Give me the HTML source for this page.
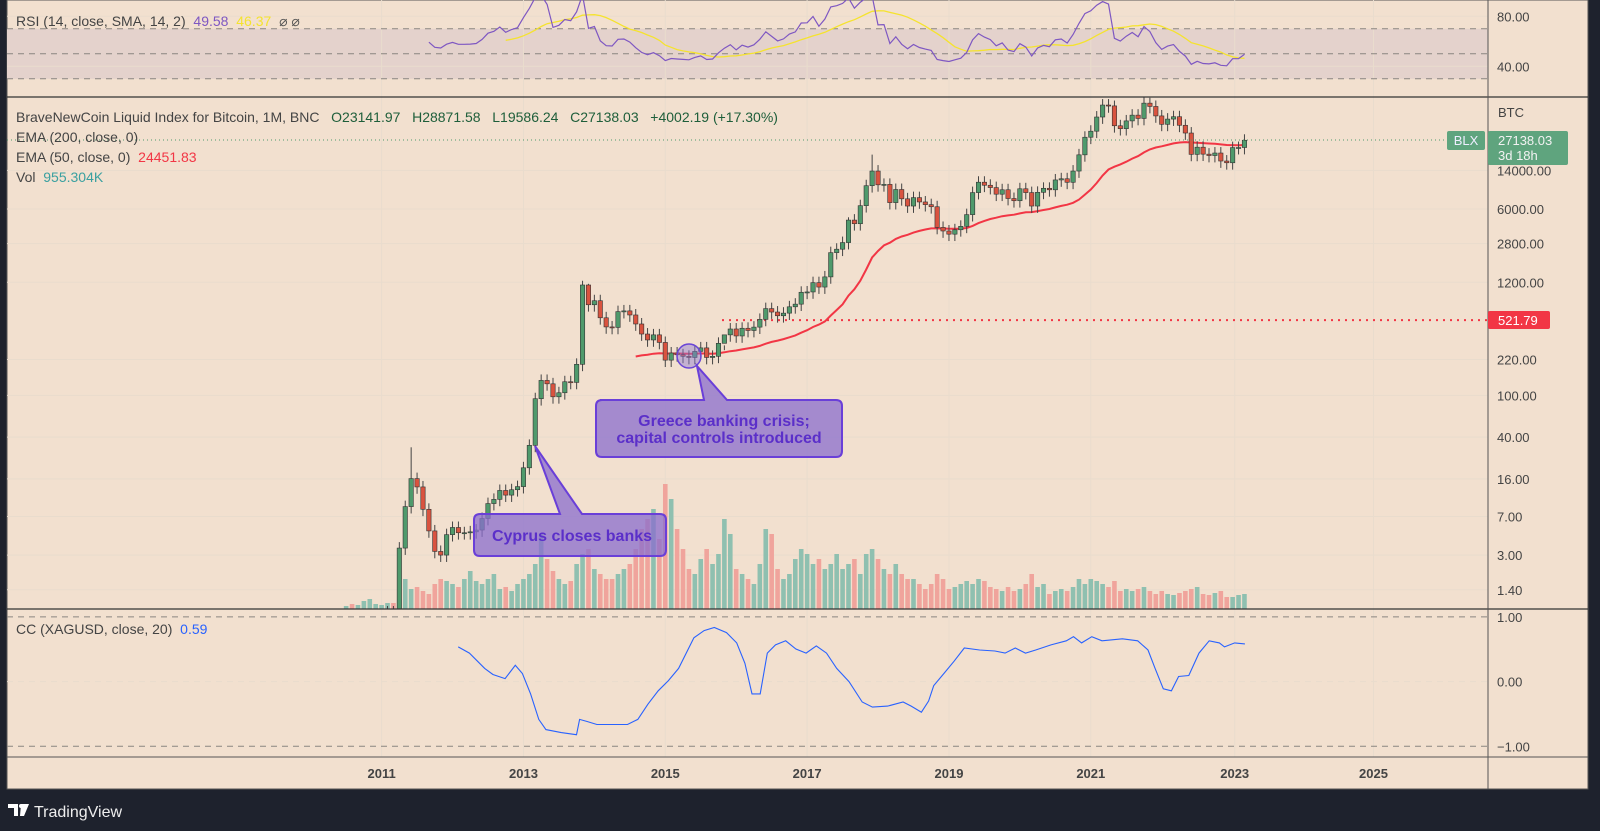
<!DOCTYPE html>
<html><head><meta charset="utf-8"><style>
html,body{margin:0;padding:0;background:#1e222d;width:1600px;height:831px;overflow:hidden}
svg{display:block}
text{font-family:"Liberation Sans",sans-serif;white-space:pre}
</style></head><body>
<svg id="s" width="1600" height="831" xmlns="http://www.w3.org/2000/svg"></svg>
<script>
const S=document.getElementById('s');let h='';
const BG='#f2e0cf',GR='#e9dccd';
h+=`<rect x="7" y="0" width="1581" height="789" fill="${BG}" stroke="#555" stroke-width="1"/>`;
const ry=r=>16.3+(80-r)*1.25;
h+=`<rect x="7" y="${ry(70)}" width="1481" height="${ry(30)-ry(70)}" fill="#e4d2cc"/>`;
const years=[[2011,381.6],[2013,523.5],[2015,665.3],[2017,807.1],[2019,949],[2021,1090.8],[2023,1234.7],[2025,1373.5]];
years.forEach(([y,x])=>{h+=`<line x1="${x}" y1="0" x2="${x}" y2="757" stroke="${GR}" stroke-width="1"/>`;
h+=`<text x="${x}" y="778" font-size="13" font-weight="bold" fill="#444" text-anchor="middle">${y}</text>`});
[[80,'80.00'],[40,'40.00']].forEach(([r,t])=>{h+=`<line x1="7" y1="${ry(r)}" x2="1488" y2="${ry(r)}" stroke="${GR}"/>`;h+=`<text x="1497" y="${ry(r)+5}" font-size="13" fill="#444">${t}</text>`});
[70,50,30].forEach(r=>h+=`<line x1="7" y1="${ry(r)}" x2="1488" y2="${ry(r)}" stroke="#8a8580" stroke-dasharray="6,5"/>`);
const py=p=>170.4+(4.146-Math.log10(p))*104.85;
[[14000,'14000.00'],[6000,'6000.00'],[2800,'2800.00'],[1200,'1200.00'],[220,'220.00'],[100,'100.00'],[40,'40.00'],[16,'16.00'],[7,'7.00'],[3,'3.00'],[1.4,'1.40']].forEach(([p,t])=>{
h+=`<line x1="7" y1="${py(p)}" x2="1488" y2="${py(p)}" stroke="${GR}"/>`;h+=`<text x="1497" y="${py(p)+5}" font-size="13" fill="#444">${t}</text>`});
h+=`<text x="1498" y="117" font-size="13" fill="#444">BTC</text>`;
const cy=v=>681.6-v*64.7;
[[1,'1.00'],[0,'0.00'],[-1,'\u22121.00']].forEach(([v,t])=>{h+=`<line x1="7" y1="${cy(v)}" x2="1488" y2="${cy(v)}" stroke="${v==0?GR:'#8a8580'}" stroke-dasharray="6,5"/>`;h+=`<text x="1497" y="${cy(v)+5}" font-size="13" fill="#444">${t}</text>`});
const C=[0.07,0.06,0.06,0.19,0.21,0.30,
0.5,0.86,0.78,3.5,8.7,16.1,13.4,8.2,5.1,3.25,3.0,4.7,
5.5,4.9,4.9,5.0,5.2,6.7,9.3,10.2,12.4,11.2,12.6,13.5,
20.4,33.4,93,139,129,97,106,135,133,198,1130,732,
800,550,450,445,630,640,585,480,385,338,378,320,
217,254,244,236,230,263,284,230,236,314,378,430,
369,437,416,448,531,673,624,575,609,700,742,963,
970,1190,1080,1350,2300,2480,2870,4700,4340,6450,10000,13800,
10200,10300,6900,9200,7500,6400,7700,7000,6600,6300,4000,3700,
3450,3800,4100,5300,8600,10800,10100,9600,8300,9150,7550,7190,
9350,8600,6400,8650,9450,9140,11350,11650,10780,13800,19700,29000,
33100,45200,58800,57700,37300,35000,41500,47100,43800,61300,57000,46300,
38500,43200,45500,37700,31800,19900,23300,20000,19400,20500,17200,16550,
23100,23140,27138];
const V=[3,5,4,8,10,5,4,6,6,10,30,20,22,18,15,25,30,28,25,22,30,38,28,25,30,35,20,22,18,25,30,35,45,75,50,38,30,25,28,45,55,60,40,35,30,30,35,40,45,60,80,90,100,70,125,110,80,60,40,35,50,60,45,55,90,75,40,35,30,25,45,80,75,40,30,35,50,60,55,45,50,40,45,55,40,45,50,35,55,60,50,40,35,45,35,30,30,25,20,25,35,30,20,22,25,28,25,30,28,22,20,18,22,18,20,25,35,22,25,15,18,20,18,22,30,25,30,28,25,22,28,18,20,18,20,22,18,15,18,15,14,16,18,20,22,15,14,16,18,12,12,14,15];
const X=m=>381.6+(m-6)*5.91;
const HI={11:32,40:1240,41:1160,89:19800,130:64900,136:69000,64:300,85:5000};
h+=`<defs><clipPath id="cm"><rect x="7" y="97" width="1481" height="512"/></clipPath><clipPath id="cr"><rect x="7" y="0" width="1481" height="97"/></clipPath></defs>`;
let g='<g clip-path="url(#cm)">';
C.forEach((c,m)=>{const o=m?C[m-1]:c*0.8;const up=c>=o;g+=`<rect x="${X(m)-2.3}" y="${609-V[m]}" width="4.6" height="${V[m]}" fill="${up?'#8fc0b0':'#f0a49c'}"/>`});
g+=`<line x1="722" y1="${py(521.79)}" x2="1488" y2="${py(521.79)}" stroke="#f23645" stroke-width="2" stroke-dasharray="2,5"/>`;
let e=C[0],k=2/51,pts=[];C.forEach((c,m)=>{e=m?c*k+e*(1-k):c;if(m>=49)pts.push(X(m).toFixed(1)+','+py(e).toFixed(1))});
g+=`<polyline points="${pts.join(' ')}" fill="none" stroke="#f23645" stroke-width="2"/>`;
C.forEach((c,m)=>{const o=m?C[m-1]:c*0.8;const up=c>=o;const hi=HI[m]||Math.max(o,c)*1.14;const lo=Math.min(o,c)*0.86;
const x=X(m);const y1=py(Math.max(o,c)),y2=py(Math.min(o,c));
g+=`<line x1="${x}" y1="${py(hi)}" x2="${x}" y2="${py(lo)}" stroke="#444" stroke-width="1"/>`;
g+=`<rect x="${x-2.2}" y="${y1}" width="4.4" height="${Math.max(1,y2-y1)}" fill="${up?'#4f9a6c':'#d9533f'}" stroke="#333" stroke-width="0.6"/>`});
g+='</g>';h+=g;
let rs=[],ag=0,al=0;for(let m=1;m<C.length;m++){const d=C[m]-C[m-1];const gg=Math.max(d,0),ll=Math.max(-d,0);
if(m<=14){ag+=gg/14;al+=ll/14;if(m==14)rs[m]=100-100/(1+ag/al)}else{ag=(ag*13+gg)/14;al=(al*13+ll)/14;rs[m]=100-100/(1+ag/(al||1e-9))}}
let rp=[],sp=[];for(let m=14;m<C.length;m++){rp.push(X(m).toFixed(1)+','+ry(rs[m]).toFixed(1));if(m>=27){let s=0;for(let j=m-13;j<=m;j++)s+=rs[j];sp.push(X(m).toFixed(1)+','+ry(s/14).toFixed(1))}}
h+=`<g clip-path="url(#cr)"><polyline points="${sp.join(' ')}" fill="none" stroke="#f5e32e" stroke-width="1.3"/><polyline points="${rp.join(' ')}" fill="none" stroke="#7e57c2" stroke-width="1.2"/></g>`;
const cc=[[449,634],[460,640],[475,655],[483,661],[495,665],[505,652],[512,660],[520,680],[528,705],[535,715],[550,718],[565,720],[568,705],[575,707],[585,710],[600,710],[615,710],[625,705],[635,690],[645,677],[655,667],[665,655],[680,625],[690,618],[700,615],[712,620],[722,630],[730,650],[737,680],[745,680],[752,640],[760,632],[770,628],[780,636],[790,640],[800,633],[810,640],[820,655],[832,668],[845,688],[855,693],[870,692],[885,688],[893,692],[903,698],[910,687],[915,672],[925,660],[935,648],[945,635],[960,637],[975,638],[985,640],[995,635],[1005,640],[1015,637],[1030,632],[1045,628],[1052,624],[1060,630],[1070,624],[1080,628],[1100,626],[1115,628],[1125,637],[1132,655],[1140,675],[1148,677],[1155,663],[1165,662],[1175,640],[1185,628],[1195,630],[1200,634],[1210,630],[1220,631]];
h+=`<polyline points="${cc.map(p=>(p[0]*1.0204).toFixed(1)+','+(p[1]*1.0204).toFixed(1)).join(' ')}" fill="none" stroke="#2962ff" stroke-width="1.1"/>`;
h+=`<line x1="7" y1="97" x2="1588" y2="97" stroke="#333" stroke-width="1.2"/><line x1="7" y1="609" x2="1588" y2="609" stroke="#333" stroke-width="1.2"/><line x1="7" y1="757" x2="1588" y2="757" stroke="#555"/><line x1="1488" y1="0" x2="1488" y2="789" stroke="#555"/>`;
h+=`<line x1="7" y1="140" x2="1450" y2="140" stroke="#4f9a6c" stroke-dasharray="1,3"/>`;
h+=`<rect x="1447" y="131" width="38" height="19" rx="2" fill="#5fa47e"/><text x="1466" y="145" font-size="13" fill="#eef" text-anchor="middle">BLX</text>`;
h+=`<rect x="1488" y="131" width="80" height="34" rx="2" fill="#5fa47e"/><text x="1498" y="145" font-size="13" fill="#f2f2f2">27138.03</text><text x="1498" y="160" font-size="13" fill="#f2f2f2">3d 18h</text>`;
h+=`<rect x="1488" y="311" width="62" height="18" rx="2" fill="#f23645"/><text x="1498" y="325" font-size="13" fill="#fff">521.79</text>`;
h+=`<circle cx="689" cy="356" r="12" fill="rgba(140,120,210,0.45)" stroke="#6a45d6" stroke-width="1.5"/>`;
h+=`<path d="M600 400 L704 400 L697 366 L727 400 L836 400 Q842 400 842 406 L842 451 Q842 457 836 457 L602 457 Q596 457 596 451 L596 406 Q596 400 602 400 Z" fill="rgba(138,110,205,0.75)" stroke="#6a3fd8" stroke-width="2"/>`;
h+=`<text x="724" y="426" font-size="16" font-weight="bold" fill="#5b2fc9" text-anchor="middle">Greece banking crisis;</text><text x="719" y="443" font-size="16" font-weight="bold" fill="#5b2fc9" text-anchor="middle">capital controls introduced</text>`;
h+=`<path d="M480 514 L560 514 L535 446 L582 514 L660 514 Q666 514 666 520 L666 550 Q666 556 660 556 L480 556 Q474 556 474 550 L474 520 Q474 514 480 514 Z" fill="rgba(138,110,205,0.75)" stroke="#6a3fd8" stroke-width="2"/>`;
h+=`<text x="572" y="541" font-size="16" font-weight="bold" fill="#5b2fc9" text-anchor="middle">Cyprus closes banks</text>`;
h+=`<text x="16" y="26" font-size="14" fill="#444">RSI (14, close, SMA, 14, 2)  <tspan fill="#7e57c2">49.58</tspan>  <tspan fill="#f5e32e">46.37</tspan>  <tspan fill="#555">⌀ ⌀</tspan></text>`;
h+=`<text x="16" y="122" font-size="14" fill="#444">BraveNewCoin Liquid Index for Bitcoin, 1M, BNC   <tspan fill="#1e5e3a">O23141.97   H28871.58   L19586.24   C27138.03   +4002.19 (+17.30%)</tspan></text>`;
h+=`<text x="16" y="142" font-size="14" fill="#444">EMA (200, close, 0)</text>`;
h+=`<text x="16" y="162" font-size="14" fill="#444">EMA (50, close, 0)  <tspan fill="#f23645">24451.83</tspan></text>`;
h+=`<text x="16" y="182" font-size="14" fill="#444">Vol  <tspan fill="#3aa0a0">955.304K</tspan></text>`;
h+=`<text x="16" y="634" font-size="14" fill="#444">CC (XAGUSD, close, 20)  <tspan fill="#2962ff">0.59</tspan></text>`;
h+=`<path d="M8 804 H18 V816 H14 V808 H8 Z M21 804 H29 L24 816 H20 Z" fill="#fff"/><circle cx="21" cy="806" r="2" fill="#fff"/><text x="34" y="817" font-size="16" fill="#eee">TradingView</text>`;
S.innerHTML=h;
</script>
</body></html>
